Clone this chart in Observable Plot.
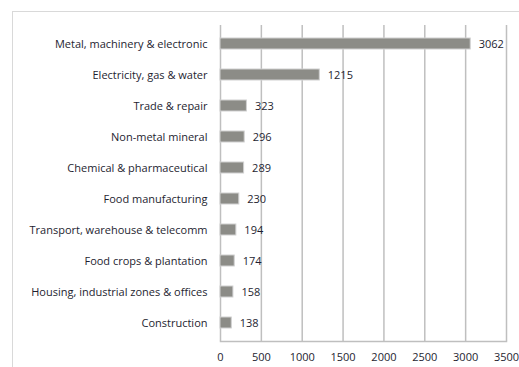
<!DOCTYPE html>
<html><head><meta charset="utf-8">
<script src="https://cdn.jsdelivr.net/npm/d3@7"></script>
<script src="https://cdn.jsdelivr.net/npm/@observablehq/plot@0.6"></script>
<style>
html,body{margin:0;padding:0;background:#fff;}
#wrap{position:relative;width:519px;height:367px;overflow:hidden;}
#border{position:absolute;left:12px;top:11px;width:600px;height:400px;border:1.5px solid #d9d9d9;box-sizing:border-box;}
#chart{position:absolute;left:0;top:0;}
</style></head>
<body><div id="wrap"><div id="border"></div><div id="chart"></div></div>
<script>
const categories = ["Metal, machinery & electronic","Electricity, gas & water","Trade & repair","Non-metal mineral","Chemical & pharmaceutical","Food manufacturing","Transport, warehouse & telecomm","Food crops & plantation","Housing, industrial zones & offices","Construction"];
const values = [3062,1215,323,296,289,230,194,174,158,138];
const xTicks = [0,500,1000,1500,2000,2500,3000,3500];
const data = categories.map((c,i)=>({category:c, value:values[i]}));
const font = "'Open Sans', sans-serif";
const chart = Plot.plot({
  width:519, height:367,
  marginLeft:220, marginRight:13, marginTop:25, marginBottom:26,
  style:{fontFamily:font, fontSize:"11px", color:"#1e1e30", background:"transparent"},
  x:{domain:[0,3500], ticks:xTicks, label:null, tickFormat:d3.format("d")},
  y:{domain:categories, label:null, paddingInner:0.65, paddingOuter:0.325},
  marks:[
    Plot.gridX(xTicks, {stroke:"#bfbfbf", strokeOpacity:1, strokeWidth:1.5}),
    Plot.frame({anchor:"bottom", stroke:"#bfbfbf", strokeWidth:1.5}),
    Plot.barX(data, {y:"category", x:"value", fill:"#8c8c87", stroke:"#d0d0d0", strokeWidth:1}),
    Plot.text(data, {y:"category", x:"value", text:d=>String(d.value), textAnchor:"start", dx:8, fill:"#1e1e30", fontSize:11}),
    Plot.axisX({ticks:xTicks, tickSize:0, tickPadding:12, fontSize:11, fill:"#1e1e30", tickFormat:d3.format("d")}),
    Plot.axisY({tickSize:0, tickPadding:13, fontSize:11, fill:"#1e1e30"})
  ]
});
document.getElementById("chart").appendChild(chart);
</script></body></html>
